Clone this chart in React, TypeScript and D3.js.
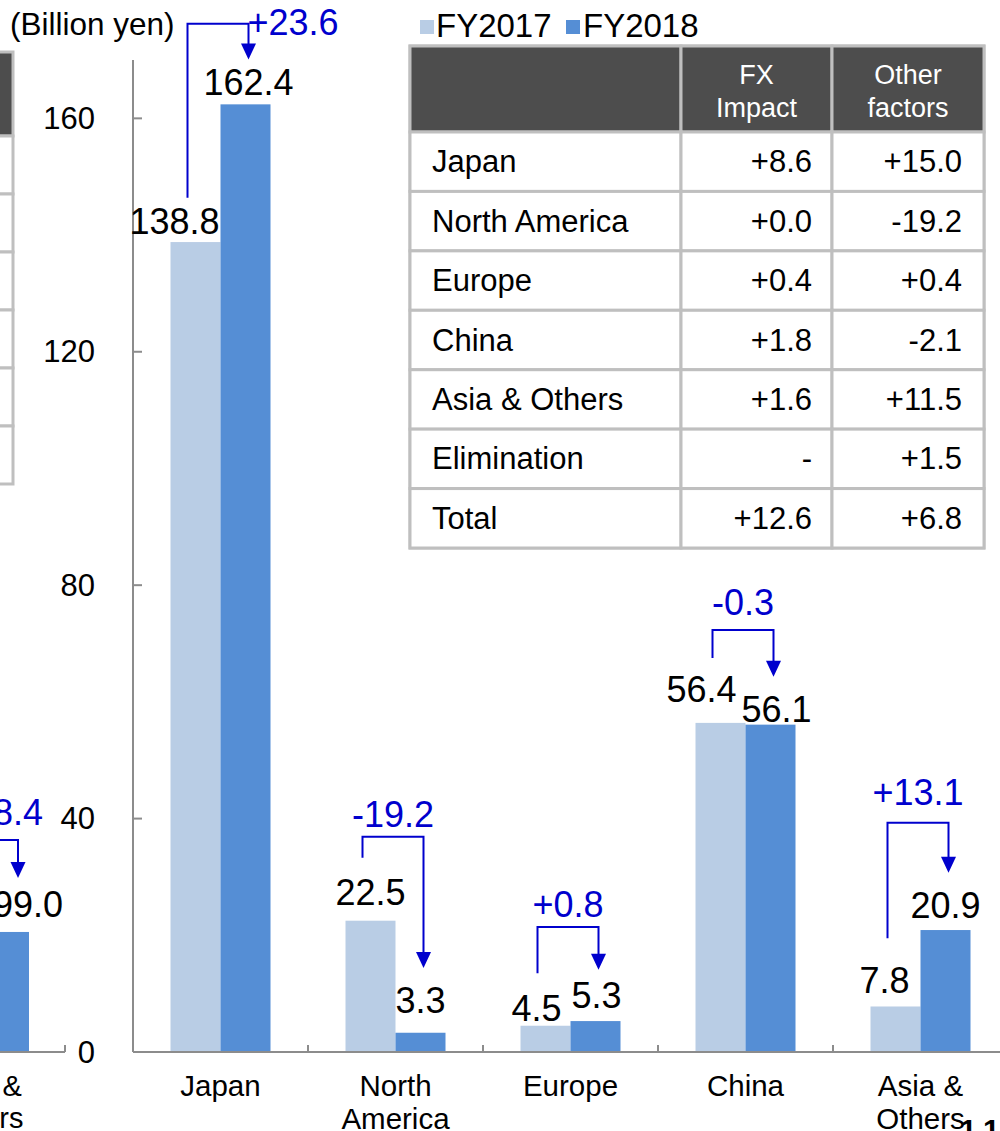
import React from "react";
import * as d3 from "d3";

// ---------- data ----------
const categories = ["Japan", "North America", "Europe", "China", "Asia & Others"];
const categoryLines = [["Japan"], ["North", "America"], ["Europe"], ["China"], ["Asia &", "Others"]];
const series = ["FY2017", "FY2018"];
const fy2017 = [138.8, 22.5, 4.5, 56.4, 7.8];
const fy2018 = [162.4, 3.3, 5.3, 56.1, 20.9];
const yTicks = [0, 40, 80, 120, 160];

const tableRegions = ["Japan", "North America", "Europe", "China", "Asia & Others", "Elimination", "Total"];
const fxImpact = ["+8.6", "+0.0", "+0.4", "+1.8", "+1.6", "-", "+12.6"];
const otherFactors = ["+15.0", "-19.2", "+0.4", "-2.1", "+11.5", "+1.5", "+6.8"];
const tableHeaders = [["FX", "Impact"], ["Other", "factors"]];

// fragment of the previous (cut-off) chart on the left edge
const prevCategoryLines = ["Asia &", "Others"];
const prevFy2018 = 99.0;
const prevDeltaText = "+8.4";
const pageNumber = "11";

// ---------- layout (not data) ----------
const label17 = { dx: [-21, 0, -9, -19, -11], gap: [8, 16, 5, 21, 13] };
const label18 = { dx: [3, 0, 1, 6, 0], gap: [9, 20, 13, 3, 12] };
const bracketTop = [176.2, 36.9, 21.4, 72.3, 39.3];
const bracketLeftEnd = [146.4, 33.3, 13.5, 67.5, 19.5];
const bracketTip = [170.1, 14.4, 14.1, 64.3, 30.7];
const deltaDx = [75, 0, 0, 0, 0];
const deltaDy = [11, -10, -10, -15, -18];

const W = 1000;
const H = 1131;
const FONT = "'Liberation Sans', Arial, Helvetica, sans-serif";
const LIGHT = "#B9CDE5";
const DARK = "#558ED5";
const BLUE = "#0000CD";
const AXIS = "#8C8C8C";
const GRID = "#BFBFBF";
const HEAD = "#4D4D4D";

export default function App() {
  const y = d3.scaleLinear().domain([0, 170]).range([1052, 60]);
  const x = d3.scaleBand<string>().domain(categories).range([133, 1008]).padding(0);
  const xi = d3
    .scaleBand<string>()
    .domain(series)
    .range([0, x.bandwidth()])
    .paddingInner(0)
    .paddingOuter(0.75);
  const bw = xi.bandwidth();
  const prevY = d3.scaleLinear().domain([0, 800]).range([1052, 82]);

  const fmt = (v: number) => {
    const s = Math.abs(v).toFixed(1);
    return (v < 0 ? "-" : "") + s;
  };
  const sfmt = (v: number) => {
    const r = Math.round(v * 10) / 10;
    return (r >= 0 ? "+" : "-") + Math.abs(r).toFixed(1);
  };

  // table geometry
  const tx = [410, 681, 832, 984];
  const headTop = 46;
  const headBot = 132;
  const rowH = (548 - headBot) / tableRegions.length;

  const arrow = (cx: number, tip: number) =>
    `M${cx - 7.5},${tip - 16} L${cx + 7.5},${tip - 16} L${cx},${tip} Z`;

  return (
    <svg
      width={W}
      height={H}
      style={{ position: "absolute", left: 0, top: 0, background: "#fff" }}
      fontFamily={FONT}
    >
      <rect x={0} y={0} width={W} height={H} fill="#fff" />

      {/* ---- left fragment: previous table ---- */}
      <g>
        <rect x={-300} y={52} width={313} height={84} fill={HEAD} stroke={GRID} strokeWidth={3} />
        {d3.range(6).map((i) => (
          <rect key={i} x={-300} y={136 + i * 58} width={313} height={58} fill="#fff" stroke={GRID} strokeWidth={3} />
        ))}
      </g>

      {/* ---- left fragment: previous chart ---- */}
      <g>
        <rect x={-21} y={prevY(prevFy2018)} width={50} height={prevY(0) - prevY(prevFy2018)} fill={DARK} />
        <line x1={-10} x2={65} y1={1052} y2={1052} stroke={AXIS} strokeWidth={2} />
        <line x1={65} x2={65} y1={1045} y2={1052} stroke={AXIS} strokeWidth={2} />
        <text x={63} y={prevY(prevFy2018) - 15} fontSize={36} textAnchor="end" fill="#000">
          {fmt(prevFy2018)}
        </text>
        <text x={43} y={825} fontSize={36} textAnchor="end" fill={BLUE}>
          {prevDeltaText}
        </text>
        <path d={`M-10,840 L18,840 L18,862`} fill="none" stroke={BLUE} strokeWidth={2} />
        <path d={arrow(18, 878)} fill={BLUE} />
        {prevCategoryLines.map((t, j) => (
          <text key={j} x={-20} y={1096 + j * 32} fontSize={29} textAnchor="middle" fill="#000">
            {t}
          </text>
        ))}
      </g>

      {/* ---- axis title ---- */}
      <text x={10} y={35} fontSize={31.5} fill="#000">
        (Billion yen)
      </text>

      {/* ---- bars ---- */}
      {categories.map((c, i) => {
        const x0 = x(c)!;
        return (
          <g key={c}>
            <rect x={x0 + xi("FY2017")!} y={y(fy2017[i])} width={bw} height={y(0) - y(fy2017[i])} fill={LIGHT} />
            <rect x={x0 + xi("FY2018")!} y={y(fy2018[i])} width={bw} height={y(0) - y(fy2018[i])} fill={DARK} />
          </g>
        );
      })}

      {/* ---- y axis ---- */}
      <line x1={133} x2={133} y1={y(170)} y2={y(0)} stroke={AXIS} strokeWidth={2} />
      {yTicks.map((t) => (
        <g key={t}>
          <line x1={133} x2={142} y1={y(t)} y2={y(t)} stroke={AXIS} strokeWidth={2} />
          <text x={95} y={y(t)} fontSize={31} textAnchor="end" dominantBaseline="central" fill="#000">
            {t}
          </text>
        </g>
      ))}

      {/* ---- x axis ---- */}
      <line x1={133} x2={W} y1={y(0)} y2={y(0)} stroke={AXIS} strokeWidth={2} />
      {categories.slice(1).map((c) => (
        <line key={c} x1={x(c)!} x2={x(c)!} y1={y(0) - 7} y2={y(0)} stroke={AXIS} strokeWidth={2} />
      ))}
      {categories.map((c, i) => (
        <g key={c}>
          {categoryLines[i].map((t, j) => (
            <text key={j} x={x(c)! + x.bandwidth() / 2} y={1096 + j * 33} fontSize={29.5} textAnchor="middle" fill="#000">
              {t}
            </text>
          ))}
        </g>
      ))}

      {/* ---- data labels ---- */}
      {categories.map((c, i) => {
        const c17 = x(c)! + xi("FY2017")! + bw / 2;
        const c18 = x(c)! + xi("FY2018")! + bw / 2;
        return (
          <g key={c} fontSize={36} fill="#000">
            <text x={c17 + label17.dx[i]} y={y(fy2017[i]) - label17.gap[i]} textAnchor="middle">
              {fmt(fy2017[i])}
            </text>
            <text x={c18 + label18.dx[i]} y={y(fy2018[i]) - label18.gap[i]} textAnchor="middle">
              {fmt(fy2018[i])}
            </text>
          </g>
        );
      })}

      {/* ---- delta brackets ---- */}
      {categories.map((c, i) => {
        const lx = x(c)! + xi("FY2017")! + bw / 2 - 8;
        const rx = x(c)! + xi("FY2018")! + bw / 2 + 3;
        const top = y(bracketTop[i]);
        const tip = y(bracketTip[i]);
        return (
          <g key={c}>
            <path
              d={`M${lx},${y(bracketLeftEnd[i])} L${lx},${top} L${rx},${top} L${rx},${tip - 14}`}
              fill="none"
              stroke={BLUE}
              strokeWidth={2}
            />
            <path d={arrow(rx, tip)} fill={BLUE} />
            <text
              x={(lx + rx) / 2 + deltaDx[i]}
              y={top + deltaDy[i]}
              fontSize={36}
              textAnchor="middle"
              fill={BLUE}
            >
              {sfmt(fy2018[i] - fy2017[i])}
            </text>
          </g>
        );
      })}

      {/* ---- legend ---- */}
      <g fontSize={33} fill="#000">
        <rect x={420} y={20} width={14} height={14} fill={LIGHT} />
        <text x={436} y={37}>{series[0]}</text>
        <rect x={566} y={20} width={14} height={14} fill={DARK} />
        <text x={583} y={37}>{series[1]}</text>
      </g>

      {/* ---- table ---- */}
      <g>
        <rect x={tx[0]} y={headTop} width={tx[3] - tx[0]} height={548 - headTop} fill="#fff" stroke={GRID} strokeWidth={3} />
        {[0, 1, 2].map((k) => (
          <rect key={k} x={tx[k]} y={headTop} width={tx[k + 1] - tx[k]} height={headBot - headTop} fill={HEAD} stroke={GRID} strokeWidth={3} />
        ))}
        {tableHeaders.map((lines, k) => (
          <g key={k}>
            {lines.map((t, j) => (
              <text key={j} x={(tx[k + 1] + tx[k + 2]) / 2} y={84 + j * 33} fontSize={27} textAnchor="middle" fill="#fff">
                {t}
              </text>
            ))}
          </g>
        ))}
        {tableRegions.map((r, i) => {
          const ry = headBot + i * rowH;
          return (
            <g key={r}>
              {[0, 1, 2].map((k) => (
                <rect key={k} x={tx[k]} y={ry} width={tx[k + 1] - tx[k]} height={rowH} fill="#fff" stroke={GRID} strokeWidth={3} />
              ))}
              <text x={432} y={ry + rowH / 2} dominantBaseline="central" fontSize={31} fill="#000">
                {r}
              </text>
              <text x={812} y={ry + rowH / 2} dominantBaseline="central" fontSize={31} textAnchor="end" fill="#000">
                {fxImpact[i]}
              </text>
              <text x={962} y={ry + rowH / 2} dominantBaseline="central" fontSize={31} textAnchor="end" fill="#000">
                {otherFactors[i]}
              </text>
            </g>
          );
        })}
      </g>

      {/* ---- page number (cut off) ---- */}
      <text x={960} y={1140} fontSize={30} fontWeight="bold" letterSpacing={8} fill="#000">
        {pageNumber}
      </text>
    </svg>
  );
}
